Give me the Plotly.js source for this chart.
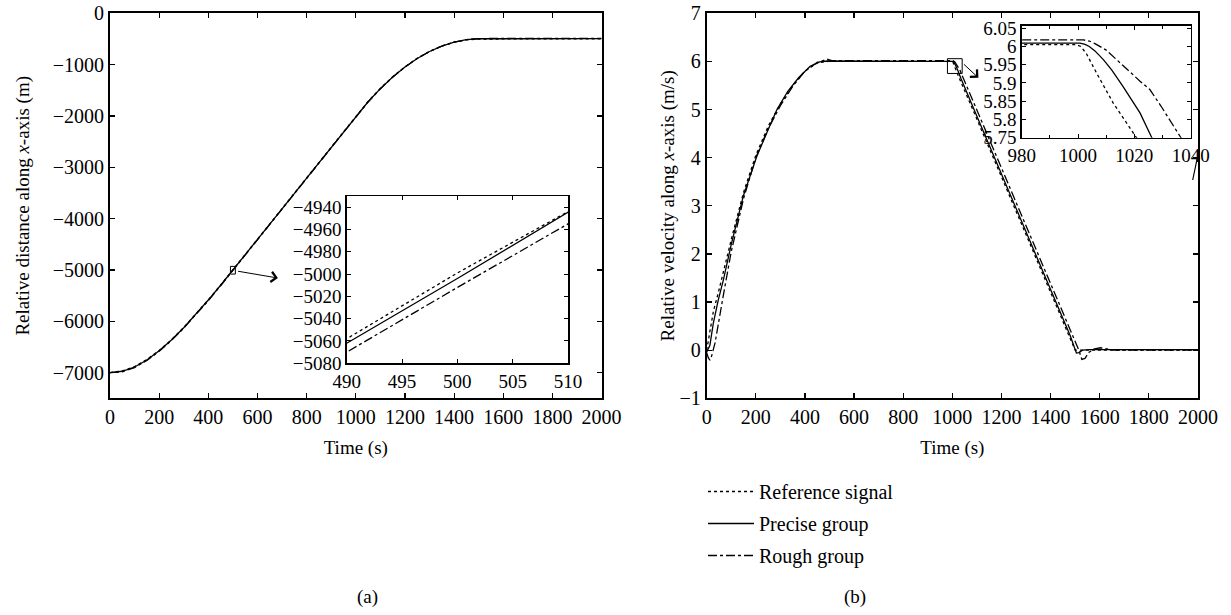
<!DOCTYPE html>
<html>
<head>
<meta charset="utf-8">
<script src="https://cdn.plot.ly/plotly-3.0.1.min.js"></script>
<style>html,body{margin:0;padding:0;background:#fff;}#chart{width:1231px;height:615px;}</style>
</head>
<body>
<div id="chart"></div>
<script>
// ---------- Data: (a) relative distance ----------
const tDist = [0, 50, 100, 150, 200, 250, 300, 350, 400, 450, 490, 500, 510, 600, 700, 800, 900, 1000, 1050, 1100, 1150, 1200, 1250, 1300, 1350, 1400, 1450, 1500, 1550, 1600, 2000];
const distReference = [-7000, -6965, -6882, -6746, -6569, -6358, -6120, -5860, -5582, -5294, -5058, -4999, -4944, -4405, -3805, -3205, -2605, -2005, -1717, -1462, -1237, -1042, -877, -742, -637, -562, -517, -502, -500, -500, -500];
const distPrecise   = [-7000, -6973, -6890, -6753, -6575, -6363, -6125, -5864, -5586, -5298, -5062, -5004, -4948, -4410, -3810, -3210, -2610, -2010, -1724, -1468, -1242, -1046, -880, -744, -638, -562, -514, -496, -495, -495, -495];
const distRough     = [-7000, -6985, -6902, -6763, -6584, -6372, -6134, -5873, -5595, -5307, -5070, -5012, -4955, -4418, -3818, -3218, -2618, -2018, -1728, -1470, -1244, -1048, -881, -745, -639, -563, -513, -493, -490, -489, -489];

// ---------- Data: (b) relative velocity ----------
const tVelReference = [0, 13, 27, 50, 75, 100, 150, 200, 250, 300, 350, 400, 450, 480, 500, 999.5, 1001, 1003, 1006.6, 1012.5, 1020.2, 1030, 1100, 1200, 1300, 1400, 1500, 1520, 2000];
const velReference  = [0, 0.40, 0.80, 1.25, 1.78, 2.30, 3.28, 4.05, 4.65, 5.12, 5.50, 5.80, 5.97, 6.0, 6.005, 6.005, 6.0, 5.98, 5.927, 5.845, 5.754, 5.63, 4.80, 3.60, 2.40, 1.20, 0.0, 0.0, 0.0];

const tVelPrecise = [0, 13, 27, 47, 68, 100, 150, 204, 250, 286, 330, 374, 421, 460, 490, 1000.7, 1002.5, 1004, 1006, 1009, 1012, 1016, 1022, 1026.2, 1035, 1100, 1200, 1300, 1400, 1480, 1505, 1515, 1530, 1560, 2000];
const velPrecise  = [-0.04, 0.10, 0.56, 1.04, 1.46, 2.20, 3.22, 4.03, 4.58, 5.00, 5.38, 5.66, 5.90, 5.99, 6.009, 6.009, 6.006, 6.0, 5.988, 5.964, 5.935, 5.89, 5.818, 5.75, 5.644, 4.86, 3.66, 2.46, 1.26, 0.30, -0.06, -0.05, 0.0, 0.01, 0.01];

const tVelRough = [0, 6, 13, 20, 34, 54, 68, 100, 150, 200, 250, 300, 350, 400, 450, 480, 490, 500, 510, 1001.9, 1004, 1006, 1008, 1010, 1013.7, 1018, 1022, 1025.5, 1030, 1036.2, 1045, 1100, 1200, 1300, 1400, 1500, 1515, 1527, 1540, 1555, 1575, 1603, 1630, 1660, 2000];
const velRough  = [-0.05, -0.15, -0.21, -0.12, 0.15, 0.76, 1.15, 2.05, 3.15, 4.00, 4.60, 5.08, 5.48, 5.80, 5.98, 6.03, 6.05, 6.03, 6.018, 6.018, 6.015, 6.008, 6.0, 5.99, 5.964, 5.932, 5.905, 5.882, 5.83, 5.754, 5.648, 4.99, 3.79, 2.59, 1.39, 0.19, 0.0, -0.19, -0.17, -0.05, 0.02, 0.05, 0.02, 0.0, 0.0];

const seriesNames = ['Reference signal', 'Precise group', 'Rough group'];
const dashes = ['dot', 'solid', 'dashdot'];

// ---------- Traces ----------
const distY = [distReference, distPrecise, distRough];
const velX = [tVelReference, tVelPrecise, tVelRough];
const velY = [velReference, velPrecise, velRough];
const traces = [];
const lw = 1.3;
for (let i = 0; i < 3; i++) {
  traces.push({x: tDist, y: distY[i], xaxis: 'x', yaxis: 'y', mode: 'lines', showlegend: false,
    line: {color: 'black', width: lw, dash: dashes[i]}, name: seriesNames[i]});
}
for (let i = 0; i < 3; i++) {
  traces.push({x: velX[i], y: velY[i], xaxis: 'x2', yaxis: 'y2', mode: 'lines', showlegend: true,
    legendgroup: 'g' + i, line: {color: 'black', width: lw, dash: dashes[i]}, name: seriesNames[i]});
}
for (let i = 0; i < 3; i++) {
  traces.push({x: tDist, y: distY[i], xaxis: 'x3', yaxis: 'y3', mode: 'lines', showlegend: false,
    line: {color: 'black', width: lw, dash: dashes[i]}, name: seriesNames[i]});
}
for (let i = 0; i < 3; i++) {
  traces.push({x: velX[i], y: velY[i], xaxis: 'x4', yaxis: 'y4', mode: 'lines', showlegend: false,
    line: {color: 'black', width: lw, dash: dashes[i]}, name: seriesNames[i]});
}

// ---------- Layout ----------
const W = 1231, H = 615;
const px = v => v / W;
const py = v => 1 - v / H;
const tickFont = {size: 20};
const titleFont = {size: 19};
const mainAxis = {showline: true, linecolor: 'black', linewidth: 2, mirror: 'ticks', ticks: 'inside',
  ticklen: 5, tickwidth: 1.2, tickcolor: 'black', showgrid: false, zeroline: false, fixedrange: true, tickfont: tickFont};
const insetAxis = {showline: true, linecolor: 'black', linewidth: 1.5, mirror: 'ticks', ticks: 'inside',
  ticklen: 4, tickwidth: 1, tickcolor: 'black', showgrid: false, zeroline: false, fixedrange: true, tickfont: {size: 19}};

const layout = {
  width: W, height: H,
  margin: {l: 0, r: 0, t: 0, b: 0},
  paper_bgcolor: 'white', plot_bgcolor: 'white',
  font: {family: '"Liberation Serif", "DejaVu Serif", serif', size: 19, color: 'black'},
  xaxis: Object.assign({}, mainAxis, {domain: [px(110), px(601.6)], anchor: 'y', range: [0, 2000], dtick: 200,
    title: {text: 'Time (s)', standoff: 13, font: titleFont}}),
  yaxis: Object.assign({}, mainAxis, {domain: [py(398.3), py(13.3)], anchor: 'x', range: [-7500, 0], dtick: 1000,
    title: {text: 'Relative distance along <i>x</i>-axis (m)', standoff: 18, font: titleFont}}),
  xaxis2: Object.assign({}, mainAxis, {domain: [px(706.7), px(1198)], anchor: 'y2', range: [0, 2000], dtick: 200,
    title: {text: 'Time (s)', standoff: 13, font: titleFont}}),
  yaxis2: Object.assign({}, mainAxis, {domain: [py(398.3), py(13.3)], anchor: 'x2', range: [-1, 7], dtick: 1,
    title: {text: 'Relative velocity along <i>x</i>-axis (m/s)', standoff: 0, font: titleFont}}),
  xaxis3: Object.assign({}, insetAxis, {domain: [px(346.7), px(568)], anchor: 'y3', range: [490, 510], dtick: 5}),
  yaxis3: Object.assign({}, insetAxis, {domain: [py(363.3), py(196)], anchor: 'x3', range: [-5080, -4930], dtick: 20}),
  xaxis4: Object.assign({}, insetAxis, {domain: [px(1021.7), px(1190.7)], anchor: 'y4', range: [980, 1040], dtick: 20,
    minor: {dtick: 10, ticks: 'inside', ticklen: 3, tickcolor: 'black'}}),
  yaxis4: Object.assign({}, insetAxis, {domain: [py(137.7), py(25.7)], anchor: 'x4', range: [5.75, 6.057], dtick: 0.05}),
  showlegend: true,
  legend: {x: px(703), y: py(472), xanchor: 'left', yanchor: 'top', bgcolor: 'rgba(0,0,0,0)',
    traceorder: 'grouped', tracegroupgap: 3, font: {size: 20}, itemwidth: 46},
  shapes: [
    {type: 'rect', xref: 'x', yref: 'y', x0: 490, x1: 510, y0: -5080, y1: -4930, line: {color: 'black', width: 1}},
    {type: 'rect', xref: 'x2', yref: 'y2', x0: 980, x1: 1040, y0: 5.75, y1: 6.057, line: {color: 'black', width: 1}},
    {type: 'line', xref: 'paper', yref: 'paper', x0: px(1198.3), y0: py(153), x1: px(1192.7), y1: py(180), line: {color: 'black', width: 1.2}}
  ],
  annotations: [
    {xref: 'x', yref: 'y', x: 683, y: -5157, axref: 'x', ayref: 'y', ax: 515, ay: -5020, showarrow: true,
      arrowhead: 4, arrowsize: 2, arrowwidth: 1, arrowcolor: 'black', text: ''},
    {xref: 'x2', yref: 'y2', x: 1106, y: 5.66, axref: 'x2', ayref: 'y2', ax: 1041, ay: 5.97, showarrow: true,
      arrowhead: 4, arrowsize: 2, arrowwidth: 1, arrowcolor: 'black', text: ''},
    {xref: 'paper', yref: 'paper', x: px(355), y: py(597), yanchor: 'middle', text: '(a)', showarrow: false, font: {size: 19}},
    {xref: 'paper', yref: 'paper', x: px(868), y: py(597), yanchor: 'middle', text: '(b)', showarrow: false, font: {size: 19}}
  ]
};

Plotly.newPlot('chart', traces, layout, {displayModeBar: false, staticPlot: true});
</script>
</body>
</html>
